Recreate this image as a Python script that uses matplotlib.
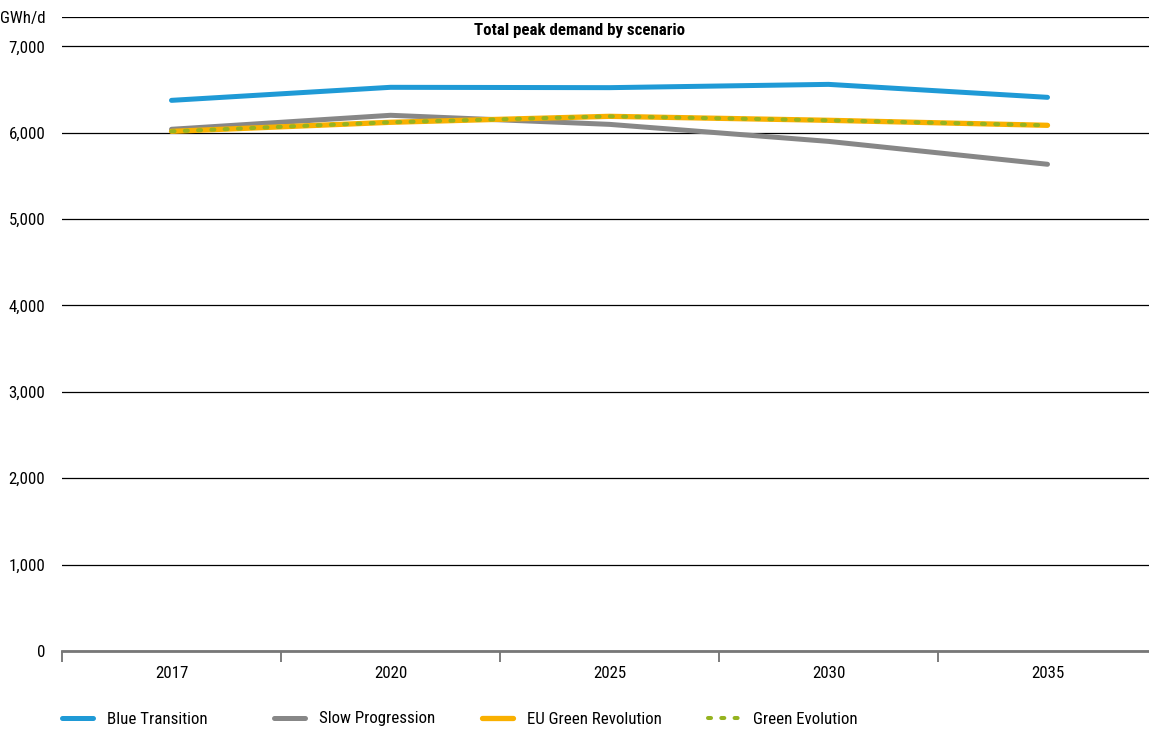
import matplotlib.pyplot as plt
from matplotlib import font_manager
from matplotlib.ticker import FixedLocator

# === ข้อมูล
years = ["2017", "2020", "2025", "2030", "2035"]
blue_transition = [6375, 6526, 6522, 6560, 6410]
slow_progression = [6040, 6202, 6097, 5900, 5635]
eu_green_revolution = [6016, 6121, 6190, 6144, 6086]
green_evolution = [6016, 6121, 6190, 6144, 6086]
y_ticks = [0, 1000, 2000, 3000, 4000, 5000, 6000, 7000]
y_top = 7340

# === หาฟอนต์แบบแคบ (condensed) ถ้ามี
names = {f.name for f in font_manager.fontManager.ttflist}
narrow = [n for n in ["Roboto Condensed", "Liberation Sans Narrow",
                      "Open Sans Condensed", "Noto Sans Condensed"] if n in names]
plt.rcParams["font.family"] = narrow + ["DejaVu Sans"]
plt.rcParams["font.stretch"] = "condensed"
is_narrow = bool(narrow)
fs = 12.2 if is_narrow else 10

fig = plt.figure(figsize=(11.49, 7.35), dpi=100)
ax = fig.add_axes([62 / 1149, 1 - 651 / 735, 1095 / 1149, (651 - 17) / 735])

x = list(range(len(years)))
l1, = ax.plot(x, blue_transition, color="#1f9ad6", lw=3.6, solid_capstyle="round",
              label="Blue Transition", zorder=3)
l2, = ax.plot(x, slow_progression, color="#878787", lw=3.6, solid_capstyle="round",
              label="Slow Progression", zorder=3)
l3, = ax.plot(x, eu_green_revolution, color="#f9b000", lw=3.8, solid_capstyle="round",
              label="EU Green Revolution", zorder=4)
l4, = ax.plot(x, green_evolution, color="#95b31f", lw=2.9, dashes=(0.75, 2.55),
              dash_capstyle="round", label="Green Evolution", zorder=5)

ax.set_xlim(-0.5, len(years) - 0.5)
ax.set_ylim(0, y_top)

# === แกน y
ax.set_yticks(y_ticks + [y_top])
ax.set_yticklabels([f"{v:,}" for v in y_ticks] + ["GWh/d"])
ax.tick_params(axis="y", length=0, pad=12, labelsize=fs)
ax.grid(axis="y", color="black", lw=0.9, zorder=1)

# === แกน x
ax.set_xticks(x)
ax.set_xticklabels(years)
ax.xaxis.set_minor_locator(FixedLocator([i - 0.5 for i in range(len(years) + 1)]))
ax.tick_params(axis="x", which="major", length=0, pad=11, labelsize=fs)
ax.tick_params(axis="x", which="minor", length=8, width=1.2, color="#666666")

for s in ["top", "right", "left"]:
    ax.spines[s].set_visible(False)
ax.spines["bottom"].set_color("#777777")
ax.spines["bottom"].set_linewidth(2)
ax.spines["bottom"].set_zorder(2)

fig.text(580 / 1149, 1 - 31 / 735, "Total peak demand by scenario",
         ha="center", va="center", fontsize=fs, fontweight="bold")

# === legend แยกทีละรายการ วางตามตำแหน่งในต้นฉบับ
px = fs * 100 / 72
for line, x0 in zip([l1, l2, l3, l4], [62, 274, 482, 708]):
    fig.legend(handles=[line], loc="center left",
               bbox_to_anchor=(x0 / 1149, 1 - 719 / 735),
               frameon=False, fontsize=fs, borderpad=0, borderaxespad=0,
               handlelength=31 / px, handletextpad=14 / px)

plt.savefig("out.png", dpi=100)
plt.close()
